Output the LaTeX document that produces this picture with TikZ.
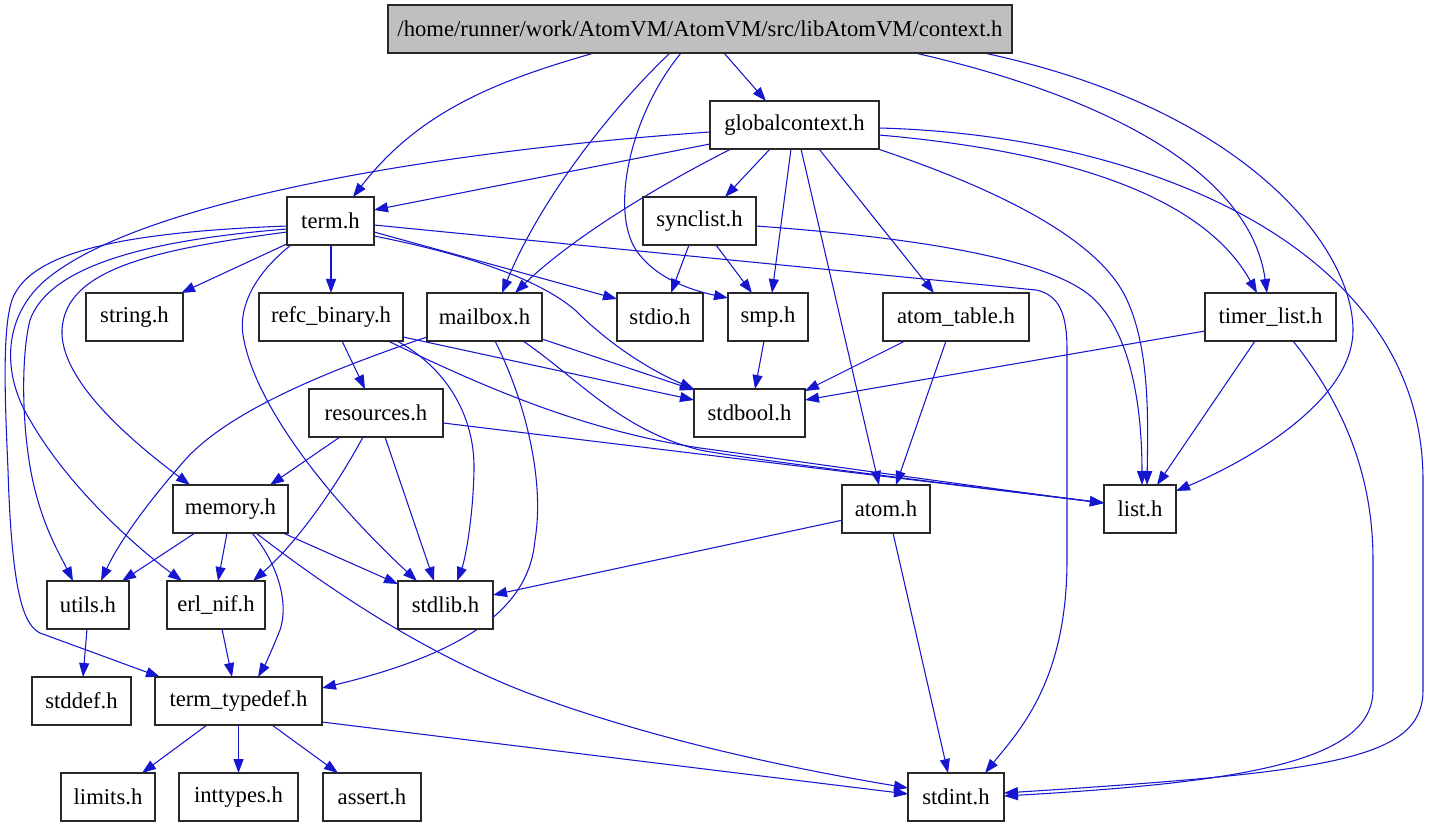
\documentclass[tikz,border=0pt]{standalone}
\usepackage{fontspec}
\setmainfont{Liberation Serif}
\usetikzlibrary{arrows.meta,calc}
\definecolor{edgec}{RGB}{22,22,206}
\definecolor{hdrfill}{RGB}{191,191,191}
\definecolor{boxline}{RGB}{40,40,40}
\pgfdeclarelayer{bg}
\pgfsetlayers{bg,main}
\newcommand\mkbox[6][white]{\node[filebox,fill=#1,minimum width={(#4-#3)*0.75pt}] (#2) at ({(#3+#4)/2},{29+96*#5}) {#6};}
\newcommand\nd[3]{($(#1)+(#2,#3)$)}
\tikzset{
  filebox/.style={draw=boxline,line width=0.8pt,minimum height=36pt,inner sep=0pt,font=\fontsize{17}{20}\selectfont},
  dep/.style={draw=edgec,line width=0.8pt,-{Triangle[length=10.5pt,width=7.5pt]}}
}
\begin{document}
\begin{tikzpicture}[x=0.75pt,y=-0.75pt]
\useasboundingbox (0,0) rectangle (1429,827);
\mkbox[hdrfill]{ctx}{388}{1012}{0}{/home/runner/work/AtomVM/AtomVM/src/libAtomVM/context.h}
\mkbox{glob}{710}{879}{1}{globalcontext.h}
\mkbox{term}{287}{374}{2}{term.h}
\mkbox{sync}{643}{756}{2}{synclist.h}
\mkbox{string}{86}{183}{3}{string.h}
\mkbox{refc}{259}{403}{3}{refc\_binary.h}
\mkbox{mail}{427}{542}{3}{mailbox.h}
\mkbox{stdio}{617}{703}{3}{stdio.h}
\mkbox{smp}{728}{808}{3}{smp.h}
\mkbox{atab}{883}{1029}{3}{atom\_table.h}
\mkbox{timer}{1205}{1336}{3}{timer\_list.h}
\mkbox{res}{309}{443}{4}{resources.h}
\mkbox{bool}{694}{805}{4}{stdbool.h}
\mkbox{mem}{173}{288}{5}{memory.h}
\mkbox{atom}{842}{930}{5}{atom.h}
\mkbox{list}{1104}{1176}{5}{list.h}
\mkbox{utils}{47}{129}{6}{utils.h}
\mkbox{nif}{167}{265}{6}{erl\_nif.h}
\mkbox{stdlib}{398}{493}{6}{stdlib.h}
\mkbox{stddef}{32}{131}{7}{stddef.h}
\mkbox{ttd}{155}{322}{7}{term\_typedef.h}
\mkbox{limits}{61}{155}{8}{limits.h}
\mkbox{intt}{179}{298}{8}{inttypes.h}
\mkbox{assert}{323}{421}{8}{assert.h}
\mkbox{stdint}{908}{1004}{8}{stdint.h}
\begin{pgfonlayer}{bg}
% context.h
\draw[dep] \nd{ctx}{-106}{24} .. controls (500,80) and (420,110) .. \nd{term}{22.5}{-24};
\draw[dep] \nd{ctx}{-30}{24} .. controls (610,110) and (540,200) .. \nd{mail}{17.5}{-24};
\draw[dep] \nd{ctx}{-19}{24} .. controls (630,115) and (610,210) .. (636,250) .. controls (655,278) and (690,290) .. \nd{smp}{-40}{-19};
\draw[dep] \nd{ctx}{24}{24} -- \nd{glob}{-28.5}{-24};
\draw[dep] \nd{ctx}{215}{24} .. controls (1100,95) and (1250,170) .. \nd{timer}{-3.5}{-24};
\draw[dep] \nd{ctx}{284}{24} .. controls (1250,110) and (1353,250) .. (1353,330) .. controls (1353,400) and (1250,460) .. \nd{list}{36}{-18};
% globalcontext.h
\draw[dep] \nd{glob}{-84.5}{19} -- \nd{term}{43.5}{-11};
\draw[dep] \nd{glob}{-84.5}{7} .. controls (450,150) and (130,200) .. (40,285) .. controls (0,325) and (5,380) .. (30,420) .. controls (70,490) and (140,550) .. \nd{nif}{-34}{-24};
\draw[dep] \nd{glob}{-24.5}{24} -- \nd{sync}{25.5}{-24};
\draw[dep] \nd{glob}{-3.5}{24} -- \nd{smp}{4}{-24};
\draw[dep] \nd{glob}{6.5}{24} -- \nd{atom}{-7}{-24};
\draw[dep] \nd{glob}{24.5}{24} -- \nd{atab}{-22}{-24};
\draw[dep] \nd{glob}{-63.5}{24} .. controls (650,190) and (570,240) .. \nd{mail}{30.5}{-24};
\draw[dep] \nd{glob}{83.5}{24} .. controls (1000,190) and (1100,240) .. (1127,300) .. controls (1150,350) and (1148,420) .. \nd{list}{7}{-24};
\draw[dep] \nd{glob}{84.5}{10} .. controls (1050,150) and (1200,190) .. \nd{timer}{-13.5}{-24};
\draw[dep] \nd{glob}{84.5}{3} .. controls (1150,135) and (1423,250) .. (1423,480) -- (1423,690) .. controls (1423,760) and (1330,772) .. \nd{stdint}{48}{-4};
% term.h
\draw[dep] \nd{term}{-41.5}{22} -- \nd{string}{46.5}{-24};
\draw[dep] \nd{term}{0.5}{24} -- \nd{refc}{0}{-24};
\draw[dep] \nd{term}{-43.5}{11} .. controls (150,250) and (65,270) .. (62,330) .. controls (60,380) and (130,440) .. \nd{mem}{-40.5}{-24};
\draw[dep] \nd{term}{-43.5}{8} .. controls (150,240) and (50,265) .. (30,320) .. controls (20,360) and (22,440) .. (35,490) .. controls (45,530) and (60,555) .. \nd{utils}{-15}{-24};
\draw[dep] \nd{term}{-43.5}{5} .. controls (130,232) and (30,250) .. (12,300) .. controls (2,330) and (5,400) .. (8,470) .. controls (12,600) and (25,625) .. (40,633) -- \nd{ttd}{-78.5}{-24};
\draw[dep] \nd{term}{-39.5}{24} .. controls (262,268) and (238,300) .. (243,335) .. controls (255,410) and (340,510) .. \nd{stdlib}{-28.5}{-24};
\draw[dep] \nd{term}{43.5}{11} -- \nd{stdio}{-43}{-18};
\draw[dep] \nd{term}{43.5}{15} .. controls (470,255) and (540,280) .. (575,310) .. controls (610,345) and (650,370) .. \nd{bool}{-55.5}{-24};
\draw[dep] \nd{term}{43.5}{4} -- (1036,290) .. controls (1060,295) and (1067,315) .. (1067,350) -- (1067,560) .. controls (1067,680) and (1020,730) .. \nd{stdint}{29}{-24};
% synclist.h
\draw[dep] \nd{sync}{-10.5}{24} -- \nd{stdio}{11}{-24};
\draw[dep] \nd{sync}{16.5}{24} -- \nd{smp}{-16}{-24};
\draw[dep] \nd{sync}{56.5}{5} .. controls (950,240) and (1060,265) .. (1095,300) .. controls (1135,340) and (1142,420) .. \nd{list}{2}{-24};
% refc_binary.h
\draw[dep] \nd{refc}{11}{24} -- \nd{res}{-11}{-24};
\draw[dep] \nd{refc}{72}{20} -- \nd{bool}{-55.5}{-13};
\draw[dep] \nd{refc}{57}{24} .. controls (480,385) and (580,430) .. (700,448) .. controls (760,456) and (1000,490) .. \nd{list}{-36}{-6};
\draw[dep] \nd{refc}{66}{24} .. controls (450,370) and (475,420) .. (474,470) .. controls (473,520) and (465,560) .. \nd{stdlib}{11.5}{-24};
% mailbox.h
\draw[dep] \nd{mail}{-57.5}{20} .. controls (330,370) and (230,410) .. (185,460) .. controls (150,500) and (120,540) .. \nd{utils}{13}{-24};
\draw[dep] \nd{mail}{57.5}{22} -- \nd{bool}{-55.5}{-23};
\draw[dep] \nd{mail}{10.5}{24} .. controls (525,400) and (545,480) .. (535,540) .. controls (530,600) and (480,650) .. \nd{ttd}{83.5}{-13};
\draw[dep] \nd{mail}{38.5}{24} .. controls (580,380) and (620,430) .. (700,450) .. controls (750,460) and (1000,490) .. \nd{list}{-36}{-6};
% smp.h, atom_table.h, timer_list.h
\draw[dep] \nd{smp}{-4}{24} -- \nd{bool}{5.5}{-24};
\draw[dep] \nd{atab}{-51}{24} -- \nd{bool}{55.5}{-22};
\draw[dep] \nd{atab}{-10}{24} -- \nd{atom}{10}{-24};
\draw[dep] \nd{timer}{-65.5}{14} -- \nd{bool}{55.5}{-13};
\draw[dep] \nd{timer}{-15.5}{24} -- \nd{list}{17}{-24};
\draw[dep] \nd{timer}{22.5}{24} .. controls (1340,400) and (1373,470) .. (1373,560) -- (1373,690) .. controls (1373,760) and (1250,782) .. \nd{stdint}{48}{-1};
% resources.h
\draw[dep] \nd{res}{-36}{24} -- \nd{mem}{39.5}{-24};
\draw[dep] \nd{res}{-13}{24} .. controls (340,480) and (300,540) .. \nd{nif}{37}{-24};
\draw[dep] \nd{res}{9}{24} -- \nd{stdlib}{-11.5}{-24};
\draw[dep] \nd{res}{67}{10} -- \nd{list}{-36}{-6};
% memory.h
\draw[dep] \nd{mem}{-35.5}{24} -- \nd{utils}{34}{-24};
\draw[dep] \nd{mem}{-3.5}{24} -- \nd{nif}{2}{-24};
\draw[dep] \nd{mem}{21.5}{24} .. controls (275,560) and (290,600) .. (280,630) .. controls (272,650) and (265,665) .. \nd{ttd}{19.5}{-24};
\draw[dep] \nd{mem}{52.5}{24} -- \nd{stdlib}{-47.5}{-21};
\draw[dep] \nd{mem}{25.5}{24} .. controls (330,590) and (420,650) .. (520,690) .. controls (650,740) and (800,770) .. \nd{stdint}{-48}{-9};
% atom.h
\draw[dep] \nd{atom}{-43}{11} -- \nd{stdlib}{47.5}{-10};
\draw[dep] \nd{atom}{7}{24} -- \nd{stdint}{-8}{-24};
% utils.h, erl_nif.h
\draw[dep] \nd{utils}{-1}{24} -- \nd{stddef}{1.5}{-24};
\draw[dep] \nd{nif}{6}{24} -- \nd{ttd}{-6.5}{-24};
% term_typedef.h
\draw[dep] \nd{ttd}{-31.5}{24} -- \nd{limits}{34}{-24};
\draw[dep] \nd{ttd}{0}{24} -- \nd{intt}{0}{-24};
\draw[dep] \nd{ttd}{33.5}{24} -- \nd{assert}{-34}{-24};
\draw[dep] \nd{ttd}{83.5}{21} -- \nd{stdint}{-48}{-3};
\end{pgfonlayer}
\end{tikzpicture}
\end{document}
